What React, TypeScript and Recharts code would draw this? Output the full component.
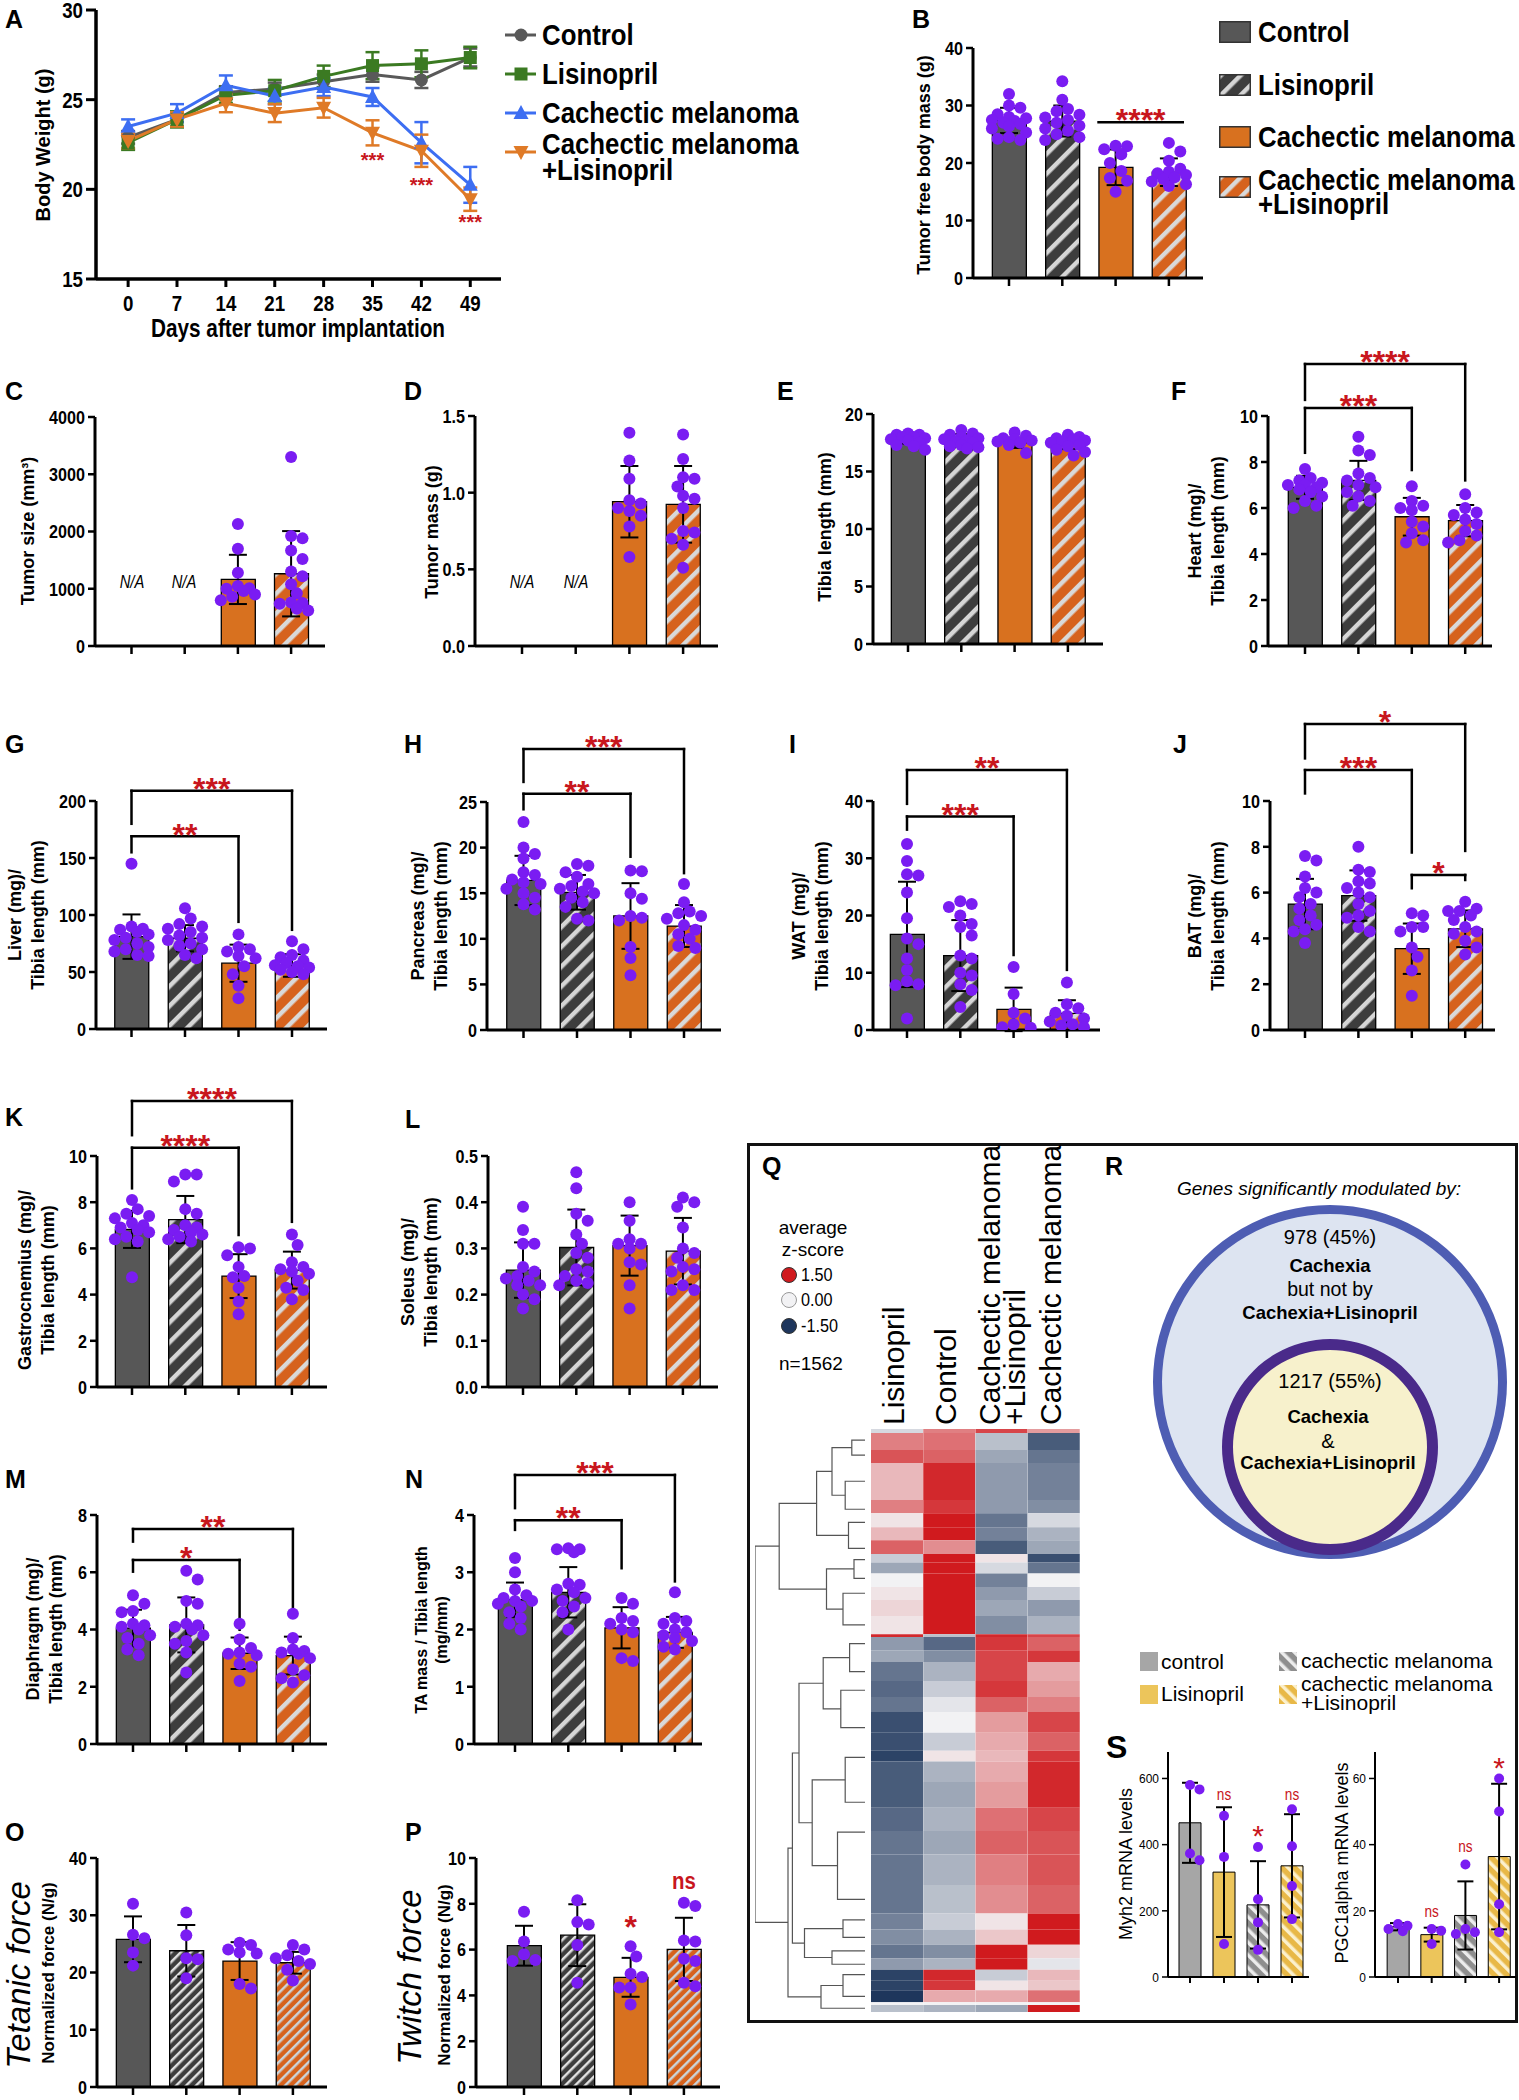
import React from 'react';
import {
  ComposedChart, BarChart, PieChart, Pie, Bar, Line, Scatter, XAxis, YAxis,
  ErrorBar, Cell, ReferenceLine, ReferenceDot,
} from 'recharts';

const ARIAL = "'Liberation Sans', Arial, Helvetica, sans-serif";
const DOT = '#7a1cf2';
const RED = '#c8161d';

const GROUPS = ['Control', 'Lisinopril', 'Cachectic melanoma', 'Cachectic melanoma +Lisinopril'];

// ---------- A: body weight over time ----------
const days = [0, 7, 14, 21, 28, 35, 42, 49];
const bwControl = [22.9, 23.9, 25.4, 25.6, 26.0, 26.4, 26.1, 27.35];
const bwControlSd = [0.35, 0.4, 0.35, 0.35, 0.4, 0.4, 0.45, 0.5];
const bwLis = [22.6, 23.9, 25.25, 25.5, 26.3, 26.9, 27.0, 27.35];
const bwLisSd = [0.4, 0.45, 0.45, 0.6, 0.6, 0.75, 0.75, 0.6];
const bwCm = [23.5, 24.25, 25.8, 25.2, 25.7, 25.15, 22.6, 20.25];
const bwCmSd = [0.4, 0.5, 0.55, 0.45, 0.5, 0.5, 1.15, 1.0];
const bwCml = [22.7, 23.9, 24.8, 24.25, 24.55, 23.15, 22.15, 19.45];
const bwCmlSd = [0.4, 0.4, 0.5, 0.5, 0.55, 0.7, 0.9, 0.65];
const bwStars = [{ day: 35, y: 21.9 }, { day: 42, y: 20.5 }, { day: 49, y: 18.4 }];

// ---------- B..P: bar panels (Control, Lisinopril, CM, CM+Lisinopril) ----------
const tfbmMean = [27.4, 27.3, 19.25, 18.4];
const tfbmSd = [2.2, 2.7, 3.1, 2.4];
const tfbmDots = [
  [32.0, 30.0, 29.6, 28.5, 28.0, 27.8, 27.5, 27.3, 27.0, 26.8, 26.4, 26.0, 25.3, 24.5, 24.0, 24.2],
  [34.2, 31.0, 29.4, 29.0, 28.4, 27.9, 27.5, 27.0, 26.5, 26.0, 25.6, 25.0, 24.5, 24.0],
  [23.0, 22.9, 22.4, 21.5, 20.0, 18.6, 17.4, 16.9, 15.0],
  [23.5, 22.0, 20.4, 19.0, 18.5, 18.2, 17.9, 17.5, 17.2, 16.8, 16.3, 16.0],
];

const tsMean = [null, null, 1163, 1262];
const tsSd = [null, null, 430, 745];
const tsDots = [[], [], [2130, 1700, 1280, 1050, 1010, 1000, 960, 900, 860, 800],
  [3300, 1920, 1880, 1670, 1520, 1300, 1220, 1080, 920, 760, 750, 740, 650, 620]];

const tmMean = [null, null, 0.941, 0.924];
const tmSd = [null, null, 0.233, 0.25];
const tmDots = [[], [], [1.39, 1.21, 1.09, 0.95, 0.93, 0.9, 0.88, 0.85, 0.78, 0.58],
  [1.38, 1.22, 1.1, 1.09, 1.04, 0.98, 0.96, 0.9, 0.75, 0.74, 0.7, 0.66, 0.51]];

const tibMean = [17.8, 17.8, 17.5, 17.4];
const tibSd = [0.4, 0.45, 0.45, 0.45];
const tibDots = [
  [18.3, 18.2, 18.2, 18.0, 18.0, 17.9, 17.8, 17.7, 17.5, 17.3, 17.2, 16.9],
  [18.6, 18.3, 18.2, 18.0, 17.9, 17.8, 17.7, 17.6, 17.5, 17.3, 17.2, 17.1, 17.0],
  [18.4, 18.1, 17.9, 17.8, 17.7, 17.6, 17.5, 17.3, 16.6],
  [18.2, 18.0, 17.9, 17.8, 17.7, 17.6, 17.5, 17.3, 17.2, 16.9, 16.7, 16.4],
];

const heartMean = [6.9, 7.2, 5.62, 5.45];
const heartSd = [0.5, 0.85, 0.82, 0.68];
const heartDots = [
  [7.7, 7.3, 7.2, 7.1, 7.0, 7.0, 6.9, 6.8, 6.7, 6.5, 6.3, 6.1, 6.0],
  [9.1, 8.5, 8.3, 7.5, 7.3, 7.2, 7.0, 6.9, 6.7, 6.5, 6.3, 6.1],
  [6.95, 6.3, 6.1, 6.0, 5.9, 5.4, 5.2, 4.9, 4.6, 4.5],
  [6.6, 6.0, 5.8, 5.7, 5.5, 5.3, 5.0, 4.8, 4.6, 4.5],
];

const liverMean = [81, 79.6, 57.7, 55.7];
const liverSd = [19.5, 11.5, 16.3, 9.9];
const liverDots = [
  [145, 90, 88, 87, 85, 83, 80, 78, 75, 72, 70, 68, 65, 64],
  [106, 97, 92, 90, 88, 85, 82, 80, 78, 75, 73, 70, 65, 62],
  [83, 72, 70, 68, 64, 62, 55, 48, 38, 27],
  [77, 70, 65, 63, 60, 58, 56, 55, 54, 52, 50, 48],
];

const pancMean = [16.4, 15.1, 12.5, 11.4];
const pancSd = [2.7, 1.9, 3.6, 2.3];
const pancDots = [
  [22.8, 20.0, 19.3, 18.8, 17.3, 17.0, 16.5, 16.2, 16.0, 15.5, 15.0, 14.5, 13.8, 13.2],
  [18.2, 18.0, 17.3, 16.8, 16.0, 15.8, 15.5, 15.2, 15.0, 14.5, 14.0, 13.5, 12.2, 12.0],
  [17.5, 17.4, 15.0, 14.4, 12.5, 12.3, 12.0, 9.1, 7.9, 6.0],
  [16.0, 14.0, 13.0, 12.8, 12.5, 12.2, 11.5, 11.0, 10.5, 10.0, 9.2, 9.0],
];

const watMean = [16.7, 13.0, 3.6, 2.9];
const watSd = [9.2, 6.2, 3.8, 2.3];
const watDots = [
  [32.5, 29.5, 27.2, 27.0, 24.0, 19.5, 16.0, 15.0, 12.5, 10.5, 8.5, 8.0, 7.8, 2.0],
  [22.5, 22.0, 21.5, 20.0, 18.5, 18.0, 16.5, 13.0, 12.5, 10.0, 9.5, 8.0, 7.0, 4.0],
  [11.0, 6.3, 3.0, 2.0, 1.0, 0.5, 0.4],
  [8.3, 4.5, 3.8, 3.0, 2.5, 2.0, 1.5, 1.0, 0.8, 0.5],
];

const batMean = [5.5, 5.87, 3.55, 4.42];
const batSd = [1.1, 1.1, 1.1, 0.8];
const batDots = [
  [7.6, 7.4, 6.7, 6.2, 6.0, 5.8, 5.5, 5.3, 5.0, 4.8, 4.6, 4.4, 4.3, 3.8],
  [8.0, 7.0, 6.9, 6.5, 6.4, 6.2, 6.0, 5.8, 5.5, 5.2, 5.0, 4.9, 4.5, 4.3],
  [5.1, 5.0, 4.5, 4.5, 4.3, 3.6, 3.2, 2.6, 1.5],
  [5.6, 5.3, 5.2, 5.2, 5.0, 4.8, 4.5, 4.3, 4.2, 3.9, 3.6, 3.3],
];

const gastMean = [6.82, 7.25, 4.8, 5.06];
const gastSd = [0.8, 1.02, 0.95, 0.8];
const gastDots = [
  [8.1, 7.7, 7.5, 7.4, 7.3, 7.1, 7.0, 6.9, 6.8, 6.7, 6.5, 6.4, 6.3, 4.75],
  [9.2, 9.2, 8.9, 7.7, 7.5, 7.0, 6.9, 6.8, 6.7, 6.6, 6.5, 6.4, 6.3],
  [6.05, 6.0, 5.7, 5.2, 4.8, 4.75, 4.3, 3.7, 3.15],
  [6.6, 6.15, 5.4, 5.2, 5.1, 5.0, 4.9, 4.6, 4.3, 4.2, 3.8],
];

const solMean = [0.253, 0.302, 0.306, 0.294];
const solSd = [0.06, 0.082, 0.065, 0.072];
const solDots = [
  [0.39, 0.34, 0.31, 0.31, 0.26, 0.25, 0.24, 0.235, 0.23, 0.22, 0.22, 0.2, 0.19, 0.17],
  [0.465, 0.43, 0.375, 0.36, 0.33, 0.31, 0.29, 0.28, 0.255, 0.25, 0.24, 0.23, 0.225, 0.22],
  [0.40, 0.36, 0.32, 0.31, 0.31, 0.30, 0.27, 0.265, 0.22, 0.17],
  [0.41, 0.40, 0.39, 0.345, 0.30, 0.29, 0.28, 0.26, 0.255, 0.25, 0.22, 0.21, 0.21],
];

const diaMean = [4.05, 4.16, 3.17, 3.09];
const diaSd = [0.64, 0.96, 0.55, 0.66];
const diaDots = [
  [5.2, 4.9, 4.65, 4.6, 4.2, 4.15, 4.1, 4.0, 3.8, 3.7, 3.5, 3.3, 3.1],
  [6.05, 5.75, 5.0, 4.9, 4.2, 4.15, 4.1, 4.0, 3.8, 3.6, 3.5, 3.2, 2.5],
  [4.2, 3.65, 3.35, 3.2, 3.15, 3.1, 2.8, 2.7, 2.2],
  [4.55, 3.7, 3.3, 3.25, 3.2, 3.15, 3.0, 2.6, 2.4, 2.3, 2.15],
];

const taMean = [2.52, 2.65, 2.03, 1.95];
const taSd = [0.3, 0.44, 0.36, 0.27];
const taDots = [
  [3.25, 3.0, 2.7, 2.6, 2.55, 2.5, 2.5, 2.45, 2.4, 2.3, 2.2, 2.1, 2.0],
  [3.42, 3.4, 3.4, 3.35, 2.8, 2.78, 2.7, 2.65, 2.55, 2.5, 2.4, 2.3, 2.0],
  [2.55, 2.45, 2.2, 2.15, 2.1, 2.0, 1.95, 1.5, 1.45],
  [2.65, 2.2, 2.15, 2.1, 2.0, 1.95, 1.9, 1.85, 1.8, 1.7, 1.65],
];

const tetMean = [25.8, 23.8, 22.0, 21.7];
const tetSd = [4.0, 4.5, 3.3, 1.9];
const tetDots = [
  [32.0, 26.6, 26.0, 23.5, 21.2],
  [30.5, 26.5, 22.5, 22.3, 19.0],
  [25.2, 24.8, 24.0, 23.5, 23.3, 18.0, 17.2],
  [24.8, 24.0, 23.0, 22.5, 22.0, 21.5, 20.5, 18.6],
];

const twMean = [6.17, 6.63, 4.79, 6.01];
const twSd = [0.87, 1.35, 0.85, 1.38];
const twDots = [
  [7.65, 6.35, 5.8, 5.55, 5.5],
  [8.15, 7.2, 7.1, 6.2, 4.55],
  [6.15, 5.7, 4.95, 4.8, 4.35, 4.35, 3.6],
  [8.05, 7.9, 6.4, 6.35, 5.6, 5.5, 4.55, 4.4],
];

// ---------- S: qPCR ----------
const myhMean = [466, 317, 218, 336];
const myhSd = [121, 196, 132, 156];
const myhDots = [[580, 567, 373, 353], [487, 363, 100], [393, 235, 165, 82], [507, 395, 275, 175]];
const pgcMean = [15.2, 12.8, 18.6, 36.4];
const pgcSd = [1.1, 2.1, 10.3, 22];
const pgcDots = [[16, 15.5, 14.5, 13.8], [14.5, 14, 10], [34, 14.5, 13.5, 13], [60, 50, 22, 13.5]];

// ---------- Q: heatmap blocks (rows out of 1562) ----------
const heatCols = ['Lisinopril', 'Control', 'Cachectic melanoma +Lisinopril', 'Cachectic melanoma'];
const heatBreaks = [0, 11, 56, 91, 190, 226, 263, 298, 335, 358, 387, 423, 458, 501, 550, 557, 593, 624, 675,
  718, 758, 814, 862, 891, 946, 1015, 1077, 1140, 1222, 1298, 1341, 1382, 1418, 1449, 1478, 1504, 1536, 1543, 1562];
const heatLis = [-0.2, 0.8, 1.1, 0.4, 0.8, 0.1, 0.4, 1.0, -0.3, -0.6, 0.0, 0.1, 0.2, 0.1, 1.4, -0.7, -0.6, -1.0, -1.1,
  -1.0, -1.3, -1.3, -1.4, -1.2, -1.2, -1.1, -1.0, -1.0, -1.0, -0.9, -0.8, -1.0, -0.7, -1.4, -1.4, -1.5, 0, -0.4];
const heatCtrl = [0.8, 0.9, 1.0, 1.4, 1.3, 1.5, 1.5, 0.7, 1.5, 1.5, 1.5, 1.5, 1.5, 1.5, -0.4, -1.1, -0.8, -0.5, -0.3,
  -0.1, 0.0, -0.3, 0.1, -0.5, -0.6, -0.5, -0.6, -0.5, -0.4, -0.3, -0.5, -0.8, -0.5, 1.4, 1.3, 0.5, 0, -0.5];
const heatCml = [1.2, -0.4, -0.6, -0.7, -0.7, -1.0, -0.9, -1.2, 0.1, -0.2, -0.9, -0.7, -0.6, -0.8, 1.4, 1.3, 1.2, 1.2, 1.3,
  1.0, 0.6, 0.5, 0.4, 0.5, 0.6, 0.9, 1.0, 0.8, 0.7, 0.1, 0.3, 1.5, 1.5, -0.3, 0.1, 0.5, 0, -0.6];
const heatCm = [0.6, -1.2, -1.0, -0.9, -0.8, -0.2, -0.5, -0.6, -1.3, -1.0, 0.0, -0.3, -0.7, -0.5, 1.2, 1.0, 1.3, 0.5, 0.6,
  0.8, 1.2, 1.0, 1.3, 1.4, 1.4, 1.2, 1.1, 1.1, 1.0, 1.5, 1.5, 0.2, -0.1, 0.4, 0.3, 0.9, 0, 1.5];

// dendrogram merges: h = merge height, a/b = leaf row or child node
const dendroNodes: { id: string; h: number; a: number | string; b: number | string }[] = [
  { id: 'n1', h: 12, a: 30, b: 70 },
  { id: 'n2', h: 18, a: 140, b: 215 },
  { id: 'n3', h: 30, a: 'n1', b: 'n2' },
  { id: 'n4', h: 15, a: 250, b: 320 },
  { id: 'n5', h: 44, a: 'n3', b: 'n4' },
  { id: 'n6', h: 10, a: 350, b: 400 },
  { id: 'n7', h: 20, a: 440, b: 525 },
  { id: 'n8', h: 35, a: 'n6', b: 'n7' },
  { id: 'n9', h: 78, a: 'n5', b: 'n8' },
  { id: 'm1', h: 14, a: 575, b: 650 },
  { id: 'm2', h: 22, a: 700, b: 800 },
  { id: 'm3', h: 38, a: 'm1', b: 'm2' },
  { id: 'm4', h: 18, a: 880, b: 1000 },
  { id: 'm5', h: 25, a: 1080, b: 1260 },
  { id: 'm6', h: 48, a: 'm4', b: 'm5' },
  { id: 'm7', h: 60, a: 'm3', b: 'm6' },
  { id: 'm8', h: 20, a: 1315, b: 1362 },
  { id: 'm9', h: 30, a: 1398, b: 1434 },
  { id: 'm10', h: 55, a: 'm8', b: 'm9' },
  { id: 'm11', h: 66, a: 'm7', b: 'm10' },
  { id: 'k1', h: 20, a: 1462, b: 1520 },
  { id: 'k2', h: 40, a: 'k1', b: 1552 },
  { id: 'k3', h: 70, a: 'm11', b: 'k2' },
  { id: 'root', h: 100, a: 'n9', b: 'k3' },
];

// ---------- R: venn ----------
const vennOuter = [{ name: 'Cachexia only', value: 978 }];
const vennInner = [{ name: 'Cachexia & Cachexia+Lisinopril', value: 1217 }];

const FILLS = ['#575757', 'url(#hDark)', '#d8711f', 'url(#hOrange)'];
const FILLS_FINE = ['#575757', 'url(#hDarkFine)', '#d8711f', 'url(#hOrangeFine)'];
const FILLS_S = ['#a6a6a6', '#ecc55b', 'url(#hGrayS)', 'url(#hYellowS)'];

type Bracket = { from: number; to: number; y: number; y1: number; y2: number; label: string };
type Note = { x: number; y: number; label: string };

function swarm(values: number[], pxPerUnit: number, r: number) {
  const placed: { x: number; y: number }[] = [];
  const out: { off: number; v: number }[] = [];
  const step = r * 0.95;
  const sorted = [...values].sort((a, b) => b - a);
  for (const v of sorted) {
    const py = -v * pxPerUnit;
    let best = 0;
    let bestD = -1;
    for (let k = 0; k <= 6; k++) {
      const off = k === 0 ? 0 : (k % 2 === 1 ? 1 : -1) * Math.ceil(k / 2) * step;
      let minD = Infinity;
      for (const q of placed) minD = Math.min(minD, Math.hypot(q.x - off, q.y - py));
      if (minD >= 1.75 * r) { best = off; bestD = Infinity; break; }
      if (minD > bestD) { bestD = minD; best = off; }
    }
    placed.push({ x: best, y: py });
    out.push({ off: best, v });
  }
  return out;
}

// condensed tick labels: Arial squeezed horizontally
function makeTick(size: number, sx: number, weight: number, fmt: (v: number) => string, axis: 'x' | 'y') {
  return (props: any) => {
    const { x, y, payload } = props;
    return (
      <g transform={`translate(${x},${y})`}>
        <text transform={`scale(${sx},1)`} textAnchor={axis === 'y' ? 'end' : 'middle'}
          dy={axis === 'y' ? '0.36em' : '0.71em'} fontFamily={ARIAL} fontWeight={weight} fontSize={size} fill="#000">
          {fmt(payload.value)}
        </text>
      </g>
    );
  };
}

type PanelProps = {
  axisX: number; axisEnd: number; yTopPx: number; yZeroPx: number;
  firstCenter: number; spacing: number; ymax: number; ticks: number[];
  means: (number | null)[]; sds: (number | null)[]; dots: number[][];
  fills: string[]; barSize?: number; brackets?: Bracket[]; notes?: Note[];
  decimals?: number; small?: boolean;
};

function BarPanel(p: PanelProps) {
  const small = !!p.small;
  const padL = 70, padR = 12, topRoom = 110, bottomRoom = 30, yAxisW = 60, xAxisH = 20;
  const plotW = p.axisEnd - p.axisX;
  const plotH = p.yZeroPx - p.yTopPx;
  const leftPad = Math.max(0, p.firstCenter - p.axisX - p.spacing / 2);
  const rightPad = Math.max(0, plotW - leftPad - 4 * p.spacing);
  const r = small ? 5 : 6;
  const pxPerUnit = plotH / p.ymax;
  const barData = GROUPS.map((g, i) => ({ name: g, mean: p.means[i] }));
  const dotData = p.dots.flatMap((vals, i) =>
    swarm(vals, pxPerUnit, r).map((d) => ({ x: i + d.off / p.spacing, y: d.v })));
  const meanData = p.means
    .map((m, i) => (m == null ? null : { x: i, y: m, sd: p.sds[i] }))
    .filter((d) => d !== null) as { x: number; y: number; sd: number }[];
  const axisStroke = small ? 2 : 3;
  const fmt = (v: number) => (p.decimals ? v.toFixed(p.decimals) : String(v));
  const yTick = small ? makeTick(13, 0.92, 400, fmt, 'y') : makeTick(19, 0.85, 700, fmt, 'y');
  const lineProps = { stroke: '#000', strokeWidth: 2.5, strokeLinecap: 'square' as const, ifOverflow: 'visible' as const, xAxisId: 'num' };

  return (
    <div style={{ position: 'absolute', left: p.axisX - padL, top: p.yTopPx - topRoom }}>
      <ComposedChart
        width={plotW + padL + padR}
        height={plotH + topRoom + bottomRoom}
        data={barData}
        margin={{ top: topRoom, right: padR, bottom: bottomRoom - xAxisH, left: padL - yAxisW }}
      >
        <XAxis xAxisId="cat" dataKey="name" type="category" interval={0} height={xAxisH}
          padding={{ left: leftPad, right: rightPad }} tick={() => <g />} tickSize={small ? 6 : 8}
          axisLine={{ stroke: '#000', strokeWidth: axisStroke }}
          tickLine={{ stroke: '#000', strokeWidth: small ? 2 : 2.5 }} />
        <XAxis xAxisId="num" dataKey="x" type="number" domain={[-0.5, 3.5]} allowDataOverflow hide
          padding={{ left: leftPad, right: rightPad }} />
        <YAxis type="number" domain={[0, p.ymax]} ticks={p.ticks} interval={0} allowDataOverflow width={yAxisW}
          tickSize={small ? 6 : 7} tickMargin={3} tick={yTick}
          axisLine={{ stroke: '#000', strokeWidth: axisStroke }}
          tickLine={{ stroke: '#000', strokeWidth: small ? 1.5 : 2.5 }} />
        <Bar xAxisId="cat" dataKey="mean" barSize={p.barSize ?? 34} stroke="#000" strokeWidth={small ? 1 : 1.3}
          isAnimationActive={false}>
          {p.fills.map((f, i) => <Cell key={i} fill={f} />)}
        </Bar>
        <Scatter xAxisId="num" data={dotData} dataKey="y" isAnimationActive={false}
          shape={(s: any) => <circle cx={s.cx} cy={s.cy} r={r} fill={DOT} />} />
        <Scatter xAxisId="num" data={meanData} dataKey="y" isAnimationActive={false} shape={() => <g />}>
          <ErrorBar dataKey="sd" direction="y" width={small ? 8 : 9} stroke="#000" strokeWidth={2} isAnimationActive={false} />
        </Scatter>
        {(p.brackets || []).flatMap((b, k) => [
          b.y1 !== b.y ? <ReferenceLine key={`a${k}`} {...lineProps} segment={[{ x: b.from, y: b.y1 }, { x: b.from, y: b.y }]} /> : null,
          <ReferenceLine key={`b${k}`} {...lineProps} segment={[{ x: b.from, y: b.y }, { x: b.to, y: b.y }]} />,
          b.y2 !== b.y ? <ReferenceLine key={`c${k}`} {...lineProps} segment={[{ x: b.to, y: b.y }, { x: b.to, y: b.y2 }]} /> : null,
          <ReferenceDot key={`d${k}`} xAxisId="num" x={(b.from + b.to) / 2} y={b.y} ifOverflow="visible"
            shape={(s: any) => (
              <text x={s.cx} y={s.cy - 9 + 0.57 * 32} textAnchor="middle" fontFamily={ARIAL} fontWeight={700}
                fontSize={32} fill={RED}>{b.label}</text>
            )} />,
        ])}
        {(p.notes || []).map((n, k) => {
          const star = n.label.includes('*');
          const fs = star ? (small ? 30 : 32) : (small ? 16 : 24);
          return (
            <ReferenceDot key={`n${k}`} xAxisId="num" x={n.x} y={n.y} ifOverflow="visible"
              shape={(s: any) => (
                <g transform={`translate(${s.cx},${s.cy + (star ? 0.57 : 0.26) * fs})`}>
                  <text transform={`scale(${star ? 1 : 0.85},1)`} textAnchor="middle" fontFamily={ARIAL}
                    fontWeight={small ? 400 : 700} fontSize={fs} fill={RED}>{n.label}</text>
                </g>
              )} />
          );
        })}
      </ComposedChart>
    </div>
  );
}

function Marker({ kind, cx, cy, color }: { kind: string; cx?: number; cy?: number; color: string }) {
  if (cx == null || cy == null) return <g />;
  if (kind === 'circle') return <circle cx={cx} cy={cy} r={6.5} fill={color} />;
  if (kind === 'square') return <rect x={cx - 6.5} y={cy - 6.5} width={13} height={13} fill={color} />;
  if (kind === 'up') return <polygon points={`${cx},${cy - 8} ${cx + 7.5},${cy + 6} ${cx - 7.5},${cy + 6}`} fill={color} />;
  return <polygon points={`${cx - 7.5},${cy - 6} ${cx + 7.5},${cy - 6} ${cx},${cy + 8}`} fill={color} />;
}

const bwSeries = [
  { key: 'ctrl', sd: 'ctrlSd', name: ['Control'], color: '#595959', kind: 'circle' },
  { key: 'lis', sd: 'lisSd', name: ['Lisinopril'], color: '#3b7a22', kind: 'square' },
  { key: 'cm', sd: 'cmSd', name: ['Cachectic melanoma'], color: '#3d6ef2', kind: 'up' },
  { key: 'cml', sd: 'cmlSd', name: ['Cachectic melanoma', '+Lisinopril'], color: '#df7a27', kind: 'down' },
];

function BodyWeight() {
  const data = days.map((d, i) => ({
    day: d, ctrl: bwControl[i], ctrlSd: bwControlSd[i], lis: bwLis[i], lisSd: bwLisSd[i],
    cm: bwCm[i], cmSd: bwCmSd[i], cml: bwCml[i], cmlSd: bwCmlSd[i],
  }));
  const fmt = (v: number) => String(v);
  return (
    <div style={{ position: 'absolute', left: 0, top: -10 }}>
      <ComposedChart width={520} height={360} data={data} margin={{ top: 20, right: 19, bottom: 31, left: 36 }}>
        <XAxis dataKey="day" type="number" domain={[-4.6, 53.4]} allowDataOverflow ticks={days} interval={0}
          height={40} tickSize={8} tickMargin={8} tick={makeTick(22, 0.85, 700, fmt, 'x')}
          axisLine={{ stroke: '#000', strokeWidth: 3.5 }} tickLine={{ stroke: '#000', strokeWidth: 3 }} />
        <YAxis type="number" domain={[15, 30]} ticks={[15, 20, 25, 30]} allowDataOverflow interval={0} width={60}
          tickSize={10} tickMargin={3} tick={makeTick(22, 0.85, 700, fmt, 'y')}
          axisLine={{ stroke: '#000', strokeWidth: 3.5 }} tickLine={{ stroke: '#000', strokeWidth: 3 }} />
        {bwSeries.map((s) => (
          <Line key={s.key} dataKey={s.key} type="linear" stroke={s.color} strokeWidth={3} isAnimationActive={false}
            activeDot={false}
            dot={(pr: any) => <Marker key={`${s.key}-${pr.index}`} kind={s.kind} cx={pr.cx} cy={pr.cy} color={s.color} />}>
            <ErrorBar dataKey={s.sd} direction="y" width={7} stroke={s.color} strokeWidth={2.5} isAnimationActive={false} />
          </Line>
        ))}
        {bwStars.map((st, k) => (
          <ReferenceDot key={k} x={st.day} y={st.y} ifOverflow="visible"
            shape={(s: any) => (
              <text x={s.cx} y={s.cy + 0.57 * 20} textAnchor="middle" fontFamily={ARIAL} fontWeight={700}
                fontSize={20} fill={RED}>***</text>
            )} />
        ))}
      </ComposedChart>
    </div>
  );
}

function zColor(z: number) {
  const t = Math.max(-1, Math.min(1, z / 1.5));
  const w = [242, 242, 244];
  const c = t >= 0 ? [208, 26, 30] : [30, 54, 92];
  const a = Math.abs(t);
  return `rgb(${w.map((v, i) => Math.round(v + (c[i] - v) * a)).join(',')})`;
}

const HEAT_TOP = 1429;
const HEAT_H = 583;

function Heatmap() {
  const zs = [heatLis, heatCtrl, heatCml, heatCm];
  const sizes = heatBreaks.slice(1).map((b, k) => b - heatBreaks[k]);
  const data = heatCols.map((name) => {
    const row: Record<string, number | string> = { name };
    sizes.forEach((s, k) => { row[`s${k}`] = s; });
    return row;
  });
  return (
    <div style={{ position: 'absolute', left: 871, top: HEAT_TOP }}>
      <BarChart width={209} height={HEAT_H} data={data} margin={{ top: 0, right: 0, bottom: 0, left: 0 }}
        barCategoryGap={0} barGap={0}>
        <XAxis dataKey="name" hide />
        <YAxis type="number" domain={[0, 1562]} reversed hide allowDataOverflow />
        {sizes.map((_, k) => (
          <Bar key={k} dataKey={`s${k}`} stackId="h" isAnimationActive={false}>
            {zs.map((col, ci) => <Cell key={ci} fill={zColor(col[k])} />)}
          </Bar>
        ))}
      </BarChart>
    </div>
  );
}

function Dendrogram() {
  const pos: Record<string, { row: number; h: number }> = {};
  const get = (ref: number | string) => (typeof ref === 'number' ? { row: ref, h: 0 } : pos[ref]);
  const links = dendroNodes.map((n) => {
    const A = get(n.a);
    const B = get(n.b);
    pos[n.id] = { row: (A.row + B.row) / 2, h: n.h };
    return [
      { h: A.h, row: A.row }, { h: n.h, row: A.row }, { h: n.h, row: B.row }, { h: B.h, row: B.row },
    ];
  });
  return (
    <div style={{ position: 'absolute', left: 755, top: HEAT_TOP }}>
      <ComposedChart width={110} height={HEAT_H} margin={{ top: 0, right: 0, bottom: 0, left: 0 }}>
        <XAxis dataKey="h" type="number" domain={[0, 100]} reversed hide allowDataOverflow />
        <YAxis type="number" domain={[0, 1562]} reversed hide allowDataOverflow />
        {links.map((pts, k) => (
          <Line key={k} data={pts} dataKey="row" type="linear" stroke="#555" strokeWidth={1.2} dot={false}
            activeDot={false} isAnimationActive={false} />
        ))}
      </ComposedChart>
    </div>
  );
}

function Venn() {
  return (
    <div style={{ position: 'absolute', left: 1140, top: 1195 }}>
      <PieChart width={380} height={380} margin={{ top: 0, right: 0, bottom: 0, left: 0 }}>
        <Pie data={vennOuter} dataKey="value" cx={190} cy={187} outerRadius={172} fill="#dde4f1" stroke="none" isAnimationActive={false} />
        <Pie data={vennOuter} dataKey="value" cx={190} cy={187} innerRadius={168} outerRadius={177} fill="#4e5db3" stroke="none" isAnimationActive={false} />
        <Pie data={vennInner} dataKey="value" cx={190} cy={252} outerRadius={100} fill="#f7f1cc" stroke="none" isAnimationActive={false} />
        <Pie data={vennInner} dataKey="value" cx={190} cy={252} innerRadius={97} outerRadius={108} fill="#4a2a8a" stroke="none" isAnimationActive={false} />
      </PieChart>
    </div>
  );
}

function PatternDefs() {
  const stripe = (id: string, size: number, w: number, base: string, light: string, angle: number) => (
    <pattern id={id} patternUnits="userSpaceOnUse" width={size} height={size} patternTransform={`rotate(${angle})`}>
      <rect width={size} height={size} fill={base} />
      <rect width={w} height={size} fill={light} />
    </pattern>
  );
  return (
    <svg width={0} height={0} style={{ position: 'absolute' }}>
      <defs>
        {stripe('hDark', 14, 4.5, '#3d3d3d', '#d6d6d6', 45)}
        {stripe('hOrange', 14, 4.5, '#d6621d', '#d9d9d9', 45)}
        {stripe('hDarkFine', 7, 2.5, '#3d3d3d', '#e0e0e0', 45)}
        {stripe('hOrangeFine', 7, 2.5, '#d6621d', '#c9d3da', 45)}
        {stripe('hGrayS', 9, 3.5, '#8e8e8e', '#ececec', -45)}
        {stripe('hYellowS', 9, 3.5, '#e8b847', '#fbf0cd', -45)}
      </defs>
    </svg>
  );
}

function Letter({ x, y, t, size = 25 }: { x: number; y: number; t: string; size?: number }) {
  return (
    <div style={{ position: 'absolute', left: x, top: y - 0.13 * size, fontFamily: ARIAL, fontWeight: 700, fontSize: size, lineHeight: 1 }}>{t}</div>
  );
}

function VLabel({ cx, cy, lines, size = 18, weight = 700, italic = false, lh = 23 }:
  { cx: number; cy: number; lines: string[]; size?: number; weight?: number; italic?: boolean; lh?: number }) {
  return (
    <div style={{
      position: 'absolute', left: cx, top: cy, transform: 'translate(-50%,-50%) rotate(-90deg)',
      whiteSpace: 'nowrap', textAlign: 'center', fontFamily: ARIAL, fontSize: size, fontWeight: weight,
      fontStyle: italic ? 'italic' : 'normal', lineHeight: `${lh}px`,
    }}>
      {lines.map((l, i) => <div key={i}>{l}</div>)}
    </div>
  );
}

function Txt({ x, y, t, size, weight = 400, italic = false, color = '#000', center = false, sx = 1 }:
  { x: number; y: number; t: string; size: number; weight?: number; italic?: boolean; color?: string; center?: boolean; sx?: number }) {
  return (
    <div style={{
      position: 'absolute', left: x, top: y,
      transform: center ? `translate(-50%,-50%) scaleX(${sx})` : `translate(0,-50%) scaleX(${sx})`,
      transformOrigin: center ? '50% 50%' : '0 50%',
      whiteSpace: 'nowrap', fontFamily: ARIAL, fontSize: size, fontWeight: weight,
      fontStyle: italic ? 'italic' : 'normal', color, lineHeight: 1.15,
    }}>{t}</div>
  );
}

function Block({ x, top, lines, size, lh, weight = 400, sx = 1 }:
  { x: number; top: number; lines: string[]; size: number; lh: number; weight?: number; sx?: number }) {
  return (
    <div style={{
      position: 'absolute', left: x, top, fontFamily: ARIAL, fontWeight: weight, fontSize: size,
      lineHeight: `${lh}px`, whiteSpace: 'nowrap', transform: `scaleX(${sx})`, transformOrigin: '0 0',
    }}>{lines.map((l, k) => <div key={k}>{l}</div>)}</div>
  );
}

function ColLabel({ left, lines }: { left: number; lines: string[] }) {
  return (
    <div style={{
      position: 'absolute', left, top: 1425, transform: 'rotate(-90deg)', transformOrigin: '0 0',
      whiteSpace: 'nowrap', fontFamily: ARIAL, fontSize: 30, lineHeight: '25px',
    }}>
      {lines.map((l, i) => <div key={i}>{l}</div>)}
    </div>
  );
}

export default function App() {
  const t5 = (m: number, s: number) => Array.from({ length: Math.round(m / s) + 1 }, (_, i) => +(i * s).toFixed(3));
  const bLegend = [['Control'], ['Lisinopril'], ['Cachectic melanoma'], ['Cachectic melanoma', '+Lisinopril']];
  return (
    <div style={{ position: 'absolute', left: 0, top: 0, width: 1519, height: 2100, background: '#fff', overflow: 'hidden', fontFamily: ARIAL }}>
      <PatternDefs />

      {/* A */}
      <Letter x={5} y={10} t="A" />
      <BodyWeight />
      <VLabel cx={43} cy={145} lines={['Body Weight (g)']} size={20} />
      <Txt x={298} y={328} t="Days after tumor implantation" size={25} weight={700} center sx={0.83} />
      {bwSeries.map((s, i) => {
        const cy = [35, 74, 113, 152][i];
        const two = s.name.length > 1;
        return (
          <React.Fragment key={s.key}>
            <svg style={{ position: 'absolute', left: 504, top: cy - 12 }} width={34} height={24}>
              <line x1={1} y1={12} x2={32} y2={12} stroke={s.color} strokeWidth={3} />
              <Marker kind={s.kind} cx={17} cy={12} color={s.color} />
            </svg>
            <Block x={542} top={two ? 131 : cy - 17} lines={s.name} size={30} lh={two ? 26 : 34} weight={700} sx={0.86} />
          </React.Fragment>
        );
      })}

      {/* B */}
      <Letter x={912} y={10} t="B" />
      <BarPanel axisX={973} axisEnd={1203} yTopPx={48} yZeroPx={278} firstCenter={1009} spacing={53.3}
        ymax={40} ticks={t5(40, 10)} means={tfbmMean} sds={tfbmSd} dots={tfbmDots} fills={FILLS}
        brackets={[{ from: 1.68, to: 3.26, y: 27.1, y1: 27.1, y2: 27.1, label: '****' }]} />
      <VLabel cx={924} cy={165} lines={['Tumor free body mass (g)']} />
      {bLegend.map((lines, i) => {
        const cy = [32, 85, 137, 187][i];
        const two = lines.length > 1;
        return (
          <React.Fragment key={i}>
            <svg style={{ position: 'absolute', left: 1219, top: cy - 11 }} width={32} height={22}>
              <rect x={0.75} y={0.75} width={30.5} height={20.5} fill={FILLS[i]} stroke="#333" strokeWidth={1.5} />
            </svg>
            <Block x={1258} top={two ? 168 : cy - 17} lines={lines} size={30} lh={two ? 24 : 34} weight={700} sx={0.86} />
          </React.Fragment>
        );
      })}

      {/* C - F */}
      <Letter x={5} y={382} t="C" />
      <BarPanel axisX={95} axisEnd={325} yTopPx={417} yZeroPx={646} firstCenter={131.5} spacing={53.2}
        ymax={4000} ticks={t5(4000, 1000)} means={tsMean} sds={tsSd} dots={tsDots} fills={FILLS} />
      <VLabel cx={28} cy={531} lines={['Tumor size (mm³)']} />
      <Txt x={131.5} y={582} t="N/A" size={18} italic center sx={0.82} />
      <Txt x={184} y={582} t="N/A" size={18} italic center sx={0.82} />

      <Letter x={404} y={382} t="D" />
      <BarPanel axisX={475} axisEnd={718} yTopPx={416} yZeroPx={646} firstCenter={522} spacing={53.7}
        ymax={1.5} ticks={[0, 0.5, 1, 1.5]} decimals={1} means={tmMean} sds={tmSd} dots={tmDots} fills={FILLS} />
      <VLabel cx={432} cy={532} lines={['Tumor mass (g)']} />
      <Txt x={522} y={582} t="N/A" size={18} italic center sx={0.82} />
      <Txt x={576} y={582} t="N/A" size={18} italic center sx={0.82} />

      <Letter x={777} y={382} t="E" />
      <BarPanel axisX={873} axisEnd={1103} yTopPx={414} yZeroPx={644} firstCenter={908} spacing={53.3}
        ymax={20} ticks={t5(20, 5)} means={tibMean} sds={tibSd} dots={tibDots} fills={FILLS} />
      <VLabel cx={825} cy={527} lines={['Tibia length (mm)']} />

      <Letter x={1171} y={382} t="F" />
      <BarPanel axisX={1268} axisEnd={1492} yTopPx={416} yZeroPx={646} firstCenter={1305} spacing={53.4}
        ymax={10} ticks={t5(10, 2)} means={heartMean} sds={heartSd} dots={heartDots} fills={FILLS}
        brackets={[
          { from: 0, to: 2, y: 10.35, y1: 8.4, y2: 7.65, label: '***' },
          { from: 0, to: 3, y: 12.26, y1: 10.7, y2: 7.2, label: '****' },
        ]} />
      <VLabel cx={1207} cy={531} lines={['Heart (mg)/', 'Tibia length (mm)']} />

      {/* G - J */}
      <Letter x={5} y={735} t="G" />
      <BarPanel axisX={96} axisEnd={327} yTopPx={801} yZeroPx={1029} firstCenter={131.5} spacing={53.5}
        ymax={200} ticks={t5(200, 50)} means={liverMean} sds={liverSd} dots={liverDots} fills={FILLS}
        brackets={[
          { from: 0, to: 2, y: 169, y1: 155, y2: 94, label: '**' },
          { from: 0, to: 3, y: 209, y1: 180, y2: 87, label: '***' },
        ]} />
      <VLabel cx={27} cy={915} lines={['Liver (mg)/', 'Tibia length (mm)']} />

      <Letter x={404} y={735} t="H" />
      <BarPanel axisX={487} axisEnd={721} yTopPx={802} yZeroPx={1030} firstCenter={523.5} spacing={53.5}
        ymax={25} ticks={t5(25, 5)} means={pancMean} sds={pancSd} dots={pancDots} fills={FILLS}
        brackets={[
          { from: 0, to: 2, y: 25.9, y1: 24.2, y2: 19.0, label: '**' },
          { from: 0, to: 3, y: 30.8, y1: 27.2, y2: 17.2, label: '***' },
        ]} />
      <VLabel cx={430} cy={916} lines={['Pancreas (mg)/', 'Tibia length (mm)']} />

      <Letter x={789} y={735} t="I" />
      <BarPanel axisX={873} axisEnd={1100} yTopPx={801} yZeroPx={1030} firstCenter={907} spacing={53.3}
        ymax={40} ticks={t5(40, 10)} means={watMean} sds={watSd} dots={watDots} fills={FILLS}
        brackets={[
          { from: 0, to: 2, y: 37.3, y1: 35, y2: 13.1, label: '***' },
          { from: 0, to: 3, y: 45.4, y1: 39.5, y2: 10.5, label: '**' },
        ]} />
      <VLabel cx={811} cy={916} lines={['WAT (mg)/', 'Tibia length (mm)']} />

      <Letter x={1173} y={735} t="J" />
      <BarPanel axisX={1270} axisEnd={1495} yTopPx={801} yZeroPx={1030} firstCenter={1305} spacing={53.4}
        ymax={10} ticks={t5(10, 2)} means={batMean} sds={batSd} dots={batDots} fills={FILLS}
        brackets={[
          { from: 0, to: 2, y: 11.35, y1: 10.33, y2: 7.75, label: '***' },
          { from: 0, to: 3, y: 13.36, y1: 11.86, y2: 7.82, label: '*' },
          { from: 2, to: 3, y: 6.77, y1: 6.19, y2: 6.55, label: '*' },
        ]} />
      <VLabel cx={1207} cy={916} lines={['BAT (mg)/', 'Tibia length (mm)']} />

      {/* K - L */}
      <Letter x={5} y={1108} t="K" />
      <BarPanel axisX={97} axisEnd={327} yTopPx={1156} yZeroPx={1387} firstCenter={132} spacing={53.3}
        ymax={10} ticks={t5(10, 2)} means={gastMean} sds={gastSd} dots={gastDots} fills={FILLS}
        brackets={[
          { from: 0, to: 2, y: 10.36, y1: 8.6, y2: 6.58, label: '****' },
          { from: 0, to: 3, y: 12.38, y1: 10.9, y2: 7.15, label: '****' },
        ]} />
      <VLabel cx={37} cy={1280} lines={['Gastrocnemius (mg)/', 'Tibia length (mm)']} />

      <Letter x={405} y={1110} t="L" />
      <BarPanel axisX={488} axisEnd={718} yTopPx={1156} yZeroPx={1387} firstCenter={523} spacing={53.3}
        ymax={0.5} ticks={[0, 0.1, 0.2, 0.3, 0.4, 0.5]} decimals={1} means={solMean} sds={solSd} dots={solDots} fills={FILLS} />
      <VLabel cx={420} cy={1272} lines={['Soleus (mg)/', 'Tibia length (mm)']} />

      {/* M - N */}
      <Letter x={5} y={1470} t="M" />
      <BarPanel axisX={97} axisEnd={327} yTopPx={1515} yZeroPx={1744} firstCenter={133} spacing={53.3}
        ymax={8} ticks={t5(8, 2)} means={diaMean} sds={diaSd} dots={diaDots} fills={FILLS}
        brackets={[
          { from: 0, to: 2, y: 6.43, y1: 6.02, y2: 3.99, label: '*' },
          { from: 0, to: 3, y: 7.51, y1: 7.07, y2: 4.69, label: '**' },
        ]} />
      <VLabel cx={45} cy={1629} lines={['Diaphragm (mg)/', 'Tibia length (mm)']} />

      <Letter x={405} y={1470} t="N" />
      <BarPanel axisX={474} axisEnd={702} yTopPx={1515} yZeroPx={1744} firstCenter={515} spacing={53.3}
        ymax={4} ticks={t5(4, 1)} means={taMean} sds={taSd} dots={taDots} fills={FILLS}
        brackets={[
          { from: 0, to: 2, y: 3.91, y1: 3.74, y2: 3.07, label: '**' },
          { from: 0, to: 3, y: 4.70, y1: 4.12, y2: 2.84, label: '***' },
        ]} />
      <VLabel cx={432} cy={1630} lines={['TA mass / Tibia length', '(mg/mm)']} size={16} lh={20} />

      {/* O - P */}
      <Letter x={5} y={1823} t="O" />
      <BarPanel axisX={97} axisEnd={327} yTopPx={1858} yZeroPx={2087} firstCenter={133} spacing={53.3}
        ymax={40} ticks={t5(40, 10)} means={tetMean} sds={tetSd} dots={tetDots} fills={FILLS_FINE} />
      <VLabel cx={18} cy={1975} lines={['Tetanic force']} size={33} weight={400} italic />
      <VLabel cx={48} cy={1973} lines={['Normalized force (N/g)']} size={17} />

      <Letter x={405} y={1823} t="P" />
      <BarPanel axisX={476} axisEnd={720} yTopPx={1858} yZeroPx={2087} firstCenter={524} spacing={53.3}
        ymax={10} ticks={t5(10, 2)} means={twMean} sds={twSd} dots={twDots} fills={FILLS_FINE}
        notes={[{ x: 2, y: 7.29, label: '*' }, { x: 3, y: 8.9, label: 'ns' }]} />
      <VLabel cx={409} cy={1977} lines={['Twitch force']} size={33} weight={400} italic />
      <VLabel cx={444} cy={1975} lines={['Normalized force (N/g)']} size={17} />

      {/* Box with Q, R, S */}
      <div style={{ position: 'absolute', left: 747, top: 1143, width: 771, height: 880, border: '3px solid #111', boxSizing: 'border-box' }} />

      <Letter x={762} y={1157} t="Q" />
      <Txt x={813} y={1228} t="average" size={19} center />
      <Txt x={813} y={1250} t="z-score" size={19} center />
      {[{ z: 1.5, t: '1.50', y: 1275 }, { z: 0, t: '0.00', y: 1300 }, { z: -1.5, t: '-1.50', y: 1326 }].map((d) => (
        <React.Fragment key={d.t}>
          <svg style={{ position: 'absolute', left: 780, top: d.y - 9 }} width={18} height={18}>
            <circle cx={9} cy={9} r={7.5} fill={zColor(d.z)} stroke={d.z === 0 ? '#999' : '#333'} strokeWidth={1} />
          </svg>
          <Txt x={801} y={d.y} t={d.t} size={18} sx={0.9} />
        </React.Fragment>
      ))}
      <Txt x={779} y={1364} t="n=1562" size={19} />
      <ColLabel left={881} lines={['Lisinopril']} />
      <ColLabel left={933} lines={['Control']} />
      <ColLabel left={977} lines={['Cachectic melanoma', '+Lisinopril']} />
      <ColLabel left={1038} lines={['Cachectic melanoma']} />
      <Dendrogram />
      <Heatmap />

      <Letter x={1105} y={1157} t="R" />
      <Venn />
      <Txt x={1319} y={1189} t="Genes significantly modulated by:" size={19} italic center />
      <Txt x={1330} y={1237} t="978 (45%)" size={20} center />
      <Txt x={1330} y={1266} t="Cachexia" size={18.5} weight={700} center />
      <Txt x={1330} y={1289} t="but not by" size={19.5} center />
      <Txt x={1330} y={1313} t="Cachexia+Lisinopril" size={18.5} weight={700} center />
      <Txt x={1330} y={1381} t="1217 (55%)" size={20} center />
      <Txt x={1328} y={1417} t="Cachexia" size={18.5} weight={700} center />
      <Txt x={1328} y={1441} t="&" size={20} center />
      <Txt x={1328} y={1463} t="Cachexia+Lisinopril" size={18.5} weight={700} center />

      {/* S legend */}
      <div style={{ position: 'absolute', left: 1140, top: 1652, width: 18, height: 19, background: FILLS_S[0] }} />
      <Txt x={1161} y={1662} t="control" size={21} />
      <div style={{ position: 'absolute', left: 1140, top: 1685, width: 18, height: 19, background: FILLS_S[1] }} />
      <Txt x={1161} y={1694} t="Lisinopril" size={21} />
      <svg style={{ position: 'absolute', left: 1279, top: 1652 }} width={18} height={19}>
        <rect width={18} height={19} fill={FILLS_S[2]} />
      </svg>
      <Txt x={1301} y={1661} t="cachectic melanoma" size={21} />
      <svg style={{ position: 'absolute', left: 1279, top: 1685 }} width={18} height={19}>
        <rect width={18} height={19} fill={FILLS_S[3]} />
      </svg>
      <Block x={1301} top={1674} lines={['cachectic melanoma', '+Lisinopril']} size={21} lh={19} />

      <Letter x={1106} y={1735} t="S" size={32} />
      <BarPanel small axisX={1168} axisEnd={1309} yTopPx={1752} yZeroPx={1977} firstCenter={1190} spacing={34}
        ymax={680} ticks={[0, 200, 400, 600]} barSize={22} means={myhMean} sds={myhSd} dots={myhDots} fills={FILLS_S}
        notes={[{ x: 1, y: 546, label: 'ns' }, { x: 2, y: 448, label: '*' }, { x: 3, y: 546, label: 'ns' }]} />
      <VLabel cx={1126} cy={1864} lines={['Myh2 mRNA levels']} size={18} weight={400} />
      <BarPanel small axisX={1375} axisEnd={1516} yTopPx={1752} yZeroPx={1977} firstCenter={1398} spacing={33.7}
        ymax={68} ticks={[0, 20, 40, 60]} barSize={22} means={pgcMean} sds={pgcSd} dots={pgcDots} fills={FILLS_S}
        notes={[{ x: 1, y: 19.3, label: 'ns' }, { x: 2, y: 39.1, label: 'ns' }, { x: 3, y: 65.4, label: '*' }]} />
      <VLabel cx={1342} cy={1863} lines={['PGC1alpha mRNA levels']} size={18} weight={400} />
    </div>
  );
}
